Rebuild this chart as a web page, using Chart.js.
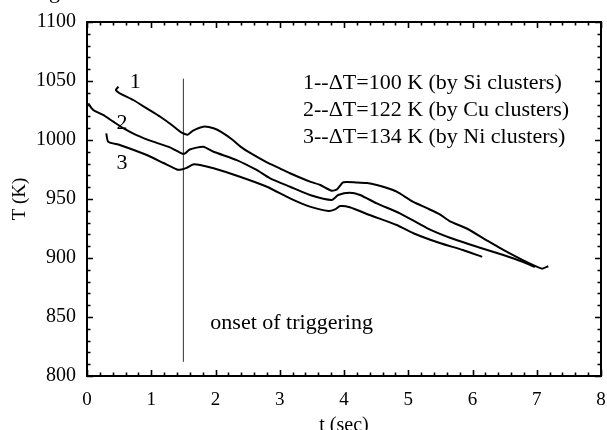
<!DOCTYPE html>
<html>
<head>
<meta charset="utf-8">
<title>T vs t</title>
<script src="https://cdn.jsdelivr.net/npm/chart.js@4.4.1/dist/chart.umd.min.js"></script>
<style>
  html, body { margin: 0; padding: 0; background: #fff; }
  #wrap { width: 607px; height: 430px; }
</style>
</head>
<body>
<div id="wrap"><canvas id="tempChart" width="607" height="430"></canvas></div>
<script>
// ===== DONNÉES =====
const xTicks = [0, 1, 2, 3, 4, 5, 6, 7, 8];
const yTicks = [800, 850, 900, 950, 1000, 1050, 1100];

// courbe 1 : Si
const tSi = [0.49, 0.45, 0.51, 0.72, 0.93, 1.14, 1.32, 1.45, 1.52, 1.57, 1.65, 1.81, 1.97, 2.10, 2.27, 2.40, 2.54, 2.80, 3.00, 3.16, 3.47, 3.63, 3.81, 3.89, 3.99, 4.20, 4.36, 4.51, 4.66, 4.82, 5.08, 5.30, 5.49, 5.65, 5.91, 6.22, 6.48, 6.79, 7.08, 7.18];
const tempSi = [1045.2, 1042.4, 1039.6, 1033.9, 1026.8, 1019.7, 1012.7, 1007.0, 1005.1, 1004.5, 1008.0, 1011.3, 1010.0, 1006.5, 1000.0, 994.0, 989.0, 981.0, 976.0, 971.8, 964.7, 961.9, 957.0, 958.2, 964.2, 964.0, 963.5, 961.9, 959.5, 956.2, 947.5, 942.0, 937.0, 931.0, 925.0, 915.0, 906.8, 898.0, 891.0, 893.0];

// courbe 2 : Cu
const tCu = [0.02, 0.07, 0.10, 0.25, 0.41, 0.57, 0.77, 1.03, 1.29, 1.47, 1.52, 1.60, 1.81, 1.97, 2.33, 2.64, 2.85, 3.16, 3.47, 3.81, 3.91, 4.09, 4.25, 4.51, 4.87, 5.29, 5.66, 6.13, 6.48, 6.79, 6.97];
const tempCu = [1031.0, 1027.0, 1025.4, 1021.2, 1015.5, 1009.9, 1004.2, 998.6, 993.8, 988.7, 988.5, 992.0, 994.3, 990.0, 983.0, 974.6, 967.5, 960.4, 953.4, 949.2, 953.4, 955.4, 953.4, 946.3, 937.9, 925.4, 917.0, 908.5, 902.5, 896.6, 892.4];

// courbe 3 : Ni
const tNi = [0.30, 0.33, 0.51, 0.93, 1.19, 1.40, 1.47, 1.55, 1.65, 1.76, 1.97, 2.38, 2.80, 3.16, 3.47, 3.76, 3.86, 3.94, 4.09, 4.40, 4.82, 5.08, 5.49, 5.85, 6.15];
const tempNi = [1005.6, 998.6, 995.8, 987.3, 980.5, 975.0, 975.0, 976.4, 979.3, 978.8, 976.0, 968.9, 960.4, 950.6, 943.5, 939.8, 941.2, 944.0, 943.0, 936.4, 928.0, 921.0, 912.7, 906.8, 901.0];

// ligne verticale "onset of triggering"
const onsetT = [1.5, 1.5];
const onsetK = [812, 1052];

const legendLines = [
    '1--\u0394T=100 K (by Si clusters)',
    '2--\u0394T=122 K (by Cu clusters)',
    '3--\u0394T=134 K (by Ni clusters)'
];
const curveLabels = ['1', '2', '3'];
const curveLabelT = [0.75, 0.545, 0.545];
const curveLabelK = [1049, 1014.4, 980.5];

const SERIF = '"Liberation Serif", "Times New Roman", serif';

function toPoints(xs, ys) {
    return xs.map((x, i) => ({ x: x, y: ys[i] }));
}

// ===== CADRE + GRADUATIONS INTÉRIEURES =====
const framePlugin = {
    id: 'frame',
    afterDraw(chart) {
        const { ctx, chartArea: a, scales: { x, y } } = chart;
        ctx.save();
        ctx.strokeStyle = '#000';
        ctx.lineWidth = 2;
        ctx.strokeRect(a.left, a.top, a.right - a.left, a.bottom - a.top);

        ctx.lineWidth = 1.6;
        ctx.beginPath();
        // axe x : majeures tous les 1, mineures tous les 0.2
        for (let i = 0; i <= 40; i++) {
            const px = Math.round(x.getPixelForValue(i * 0.2)) + 0.5;
            const len = i % 5 === 0 ? 6 : 3.5;
            ctx.moveTo(px, a.bottom); ctx.lineTo(px, a.bottom - len);
            ctx.moveTo(px, a.top); ctx.lineTo(px, a.top + len);
        }
        // axe y : majeures tous les 50, mineures tous les 10
        for (let i = 0; i <= 30; i++) {
            const py = Math.round(y.getPixelForValue(800 + i * 10)) + 0.5;
            const len = i % 5 === 0 ? 6 : 3.5;
            ctx.moveTo(a.left, py); ctx.lineTo(a.left + len, py);
            ctx.moveTo(a.right, py); ctx.lineTo(a.right - len, py);
        }
        ctx.stroke();

        // textes
        ctx.fillStyle = '#000';
        ctx.textBaseline = 'middle';
        ctx.textAlign = 'left';
        ctx.font = '22px ' + SERIF;
        legendLines.forEach((txt, i) => {
            ctx.fillText(txt, 303, 83 + i * 27);
        });
        ctx.textAlign = 'center';
        curveLabels.forEach((txt, i) => {
            ctx.fillText(txt, x.getPixelForValue(curveLabelT[i]), y.getPixelForValue(curveLabelK[i]));
        });
        ctx.textAlign = 'left';
        ctx.fillText('onset of triggering', x.getPixelForValue(1.92), y.getPixelForValue(845));

        // fragment de légende coupé en haut
        ctx.textBaseline = 'alphabetic';
        ctx.fillText('g', 49, -2);
        ctx.restore();
    }
};

function initChart() {
    const ctx = document.getElementById('tempChart').getContext('2d');
    const lineStyle = {
        showLine: true,
        borderColor: '#000',
        borderWidth: 2,
        pointRadius: 0,
        tension: 0.2,
        fill: false
    };

    window.tempChart = new Chart(ctx, {
        type: 'scatter',
        data: {
            datasets: [
                Object.assign({ label: 'Si', data: toPoints(tSi, tempSi) }, lineStyle),
                Object.assign({ label: 'Cu', data: toPoints(tCu, tempCu) }, lineStyle),
                Object.assign({ label: 'Ni', data: toPoints(tNi, tempNi) }, lineStyle),
                {
                    label: 'onset',
                    data: toPoints(onsetT, onsetK),
                    showLine: true,
                    borderColor: '#333',
                    borderWidth: 1,
                    pointRadius: 0
                }
            ]
        },
        options: {
            responsive: false,
            animation: false,
            layout: { padding: { top: 22, right: 6, left: 0, bottom: 0 } },
            plugins: {
                legend: { display: false },
                tooltip: { enabled: false }
            },
            scales: {
                x: {
                    type: 'linear',
                    min: 0,
                    max: 8,
                    afterBuildTicks: s => { s.ticks = xTicks.map(v => ({ value: v })); },
                    ticks: {
                        color: '#000',
                        font: { family: SERIF, size: 19 },
                        padding: 13,
                        maxRotation: 0,
                        callback: v => String(v)
                    },
                    grid: { display: false, drawTicks: false },
                    border: { display: false },
                    title: {
                        display: true,
                        text: 't (sec)',
                        color: '#000',
                        font: { family: SERIF, size: 20, lineHeight: 1 },
                        padding: { top: 0, bottom: -6 }
                    },
                    afterFit: s => { s.height = 54; s.paddingLeft = 0; s.paddingRight = 0; }
                },
                y: {
                    min: 800,
                    max: 1100,
                    afterBuildTicks: s => { s.ticks = yTicks.map(v => ({ value: v })); },
                    ticks: {
                        color: '#000',
                        font: { family: SERIF, size: 20 },
                        padding: 11,
                        callback: v => String(v)
                    },
                    grid: { display: false, drawTicks: false },
                    border: { display: false },
                    title: {
                        display: true,
                        text: 'T (K)',
                        color: '#000',
                        font: { family: SERIF, size: 19, lineHeight: 1.2 },
                        padding: { top: 9, bottom: 0 }
                    },
                    afterFit: s => { s.width = 87; s.paddingTop = 0; s.paddingBottom = 0; }
                }
            }
        },
        plugins: [framePlugin]
    });
}

document.addEventListener('DOMContentLoaded', initChart);
</script>
</body>
</html>
